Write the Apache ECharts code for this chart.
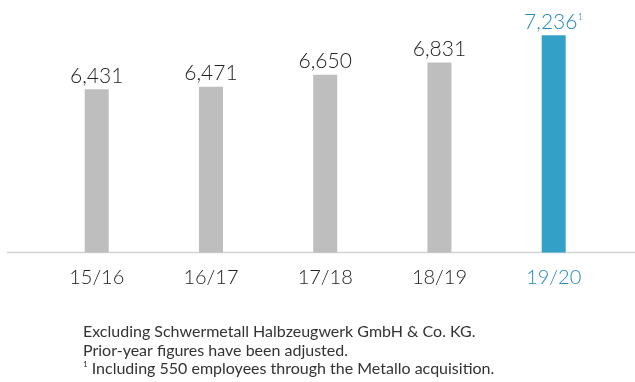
<!DOCTYPE html>
<html>
<head>
<meta charset="utf-8">
<style>
  html, body { margin: 0; padding: 0; background: #fff; }
  #chart { width: 635px; height: 382px; }
</style>
<script src="https://cdn.jsdelivr.net/npm/echarts@6/dist/echarts.min.js"></script>
</head>
<body>
<div id="chart"></div>
<script>
// Employees by fiscal year
const years = ['15/16', '16/17', '17/18', '18/19', '19/20'];
const employees = [6431, 6471, 6650, 6831, 7236];
const footnoteMark = ['', '', '', '', '1'];
const notes = [
  'Excluding Schwermetall Halbzeugwerk GmbH & Co. KG.',
  'Prior-year figures have been adjusted.',
  '{sup|1} Including 550 employees through the Metallo acquisition.'
];

const FONT = 'Lato, "Open Sans", sans-serif';
const GREY = '#bdbebd';
const BLUE = '#33a0c8';
const BLUE_TEXT = '#2689bb';
const DARK = '#222222';
const lastIdx = years.length - 1;

const fmt = v => v.toLocaleString('en-US');

const chart = echarts.init(document.getElementById('chart'), null, { renderer: 'canvas' });

const option = {
  animation: false,
  backgroundColor: '#ffffff',
  grid: { left: 39.6, right: 24.2, top: 17.6, bottom: 129.5 },
  xAxis: {
    type: 'category',
    data: years,
    axisLine: { show: false },
    axisTick: { show: false },
    axisLabel: {
      margin: 15,
      fontFamily: FONT,
      fontWeight: 300,
      fontSize: 20,
      color: (val, idx) => (idx === lastIdx ? BLUE_TEXT : DARK)
    }
  },
  yAxis: {
    type: 'value',
    min: 4000,
    max: 7500,
    show: false,
    splitLine: { show: false }
  },
  series: [{
    type: 'bar',
    barWidth: 24,
    data: employees.map((v, i) => ({
      value: v,
      itemStyle: { color: i === lastIdx ? BLUE : GREY },
      label: {
        formatter: footnoteMark[i] ? '{v|' + fmt(v) + '}{s|' + footnoteMark[i] + '}' : '{v|' + fmt(v) + '}',
        rich: {
          v: {
            fontFamily: FONT, fontWeight: 300, fontSize: 21,
            color: i === lastIdx ? BLUE_TEXT : DARK
          },
          s: {
            fontFamily: FONT, fontWeight: 300, fontSize: 10,
            color: i === lastIdx ? BLUE_TEXT : DARK,
            verticalAlign: 'top', padding: [0, 0, 10, 0]
          }
        }
      }
    })),
    label: { show: true, position: 'top', distance: 3 }
  }]
};

chart.setOption(option);

// Baseline rule running across the full width, plus the notes below the chart
const baseY = chart.convertToPixel({ yAxisIndex: 0 }, 4000);
chart.setOption({
  graphic: [
    {
      type: 'line',
      shape: { x1: 7, y1: baseY, x2: 635, y2: baseY },
      style: { stroke: '#d3d3d3', lineWidth: 1.5 },
      silent: true
    },
    {
      type: 'text',
      left: 83,
      top: 323,
      style: {
        text: notes.join('\n'),
        fontFamily: FONT,
        fontSize: 16,
        lineHeight: 18.5,
        fill: '#333333',
        rich: {
          sup: { fontFamily: FONT, fontSize: 8, fill: '#333333', verticalAlign: 'top', padding: [0, 0, 8, 0] }
        }
      },
      silent: true
    }
  ]
});
</script>
</body>
</html>
